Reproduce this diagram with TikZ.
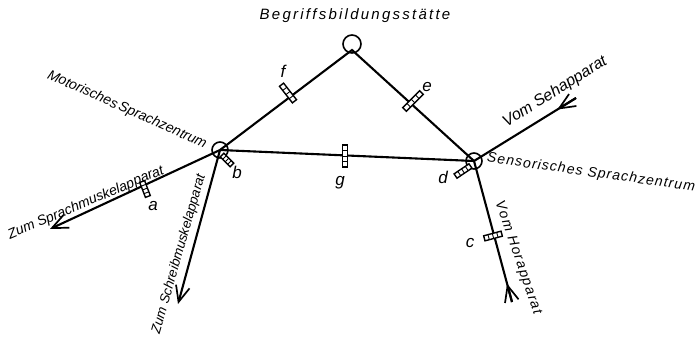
\documentclass[tikz,border=0pt]{standalone}
\usepackage{fontspec}
\setmainfont{Liberation Sans}
\usetikzlibrary{arrows.meta,calc}
\begin{document}
\begin{tikzpicture}[x=1pt,y=-1pt,
  conn/.style={line width=2.1pt},
  hub/.style={circle,draw,line width=1.6pt,minimum size=16pt,inner sep=0pt},
  lbl/.style={font=\fontsize{14}{14}\selectfont\itshape, inner sep=0pt},
  letter/.style={font=\fontsize{17}{17}\selectfont\itshape, inner sep=0pt},
  barb/.style={-{Straight Barb[length=16pt,width=14pt,line width=1.7pt]}, line width=2.1pt},
  pics/hatch/.style={code={
    \draw[line width=1.4pt,fill=white] (-#1/2,-2.6) rectangle (#1/2,2.6);
    \foreach \k in {-0.25,0,0.25} \draw[line width=0.9pt] (\k*#1,-2.6) -- (\k*#1,2.6);
  }},
]
\useasboundingbox (0,0) rectangle (695,339);

% hubs
\node[hub,minimum size=18pt] (T) at (352,44) {};
\node[hub] (b) at (220,150) {};
\node[hub] (d) at (474,161) {};
\coordinate (Tv) at (352,50);
\coordinate (A) at (50,229);
\coordinate (S) at (178,304);
\coordinate (E) at (576,98);
\coordinate (H) at (512,302);

% connectors
\draw[conn] (b.center) -- (Tv) -- (d.center);
\draw[conn] (b.center) -- (d.center);
\draw[barb] (b.center) -- (A);
\draw[barb] (b.center) -- (S);
\draw[conn] (d.center) -- (E);
\draw[barb] (E) -- ($(E)!22pt!(d)$);
\draw[conn] (d.center) -- (H);
\draw[barb] (H) -- ($(H)!19pt!(d)$);

% hatches
\pic[rotate=-52] at (288,93) {hatch=21};
\pic[rotate=45] at (413,101) {hatch=24};
\pic[rotate=90] at (345,156) {hatch=22};
\pic[rotate=-69] at (145,189) {hatch=16};
\pic[rotate=15] at (493,236) {hatch=18};
\pic[rotate=34] at (463,171) {hatch=18};
\pic[rotate=-45] at (227,160) {hatch=14};

% letters
\node[letter] (lf) at (283,71) {f};
\node[letter] (le) at (427,87) {e};
\node[letter] (lg) at (340,183) {g};
\node[letter] (la) at (153,206) {a};
\node[letter] (lb) at (237,172) {b};
\node[letter] (lc) at (470,243) {c};
\node[letter] (ld) at (443,177) {d};

% texts
\node[lbl,font=\fontsize{15}{15}\selectfont\itshape] (t1) at (355,16) {\addfontfeatures{LetterSpace=15}Begriffsbildungsstätte};
\node[lbl,rotate=-24] (t2) at (127,110) {Motorisches\,Sprachzentrum};
\node[lbl,rotate=23] (t3) at (86,203) {Zum Sprachmuskelapparat};
\node[lbl,rotate=74,font=\fontsize{13.5}{13.5}\selectfont\itshape] (t4) at (179,254) {Zum Schreibmuskelapparat};
\node[lbl,rotate=32,font=\fontsize{16}{16}\selectfont\itshape] (t5) at (555,92) {Vom Sehapparat};
\node[lbl,rotate=-8] (t6) at (591,173) {\addfontfeatures{LetterSpace=8}Sensorisches Sprachzentrum};
\node[lbl,rotate=-71] (t7) at (518,258) {\addfontfeatures{LetterSpace=10}Vom Horapparat};
\end{tikzpicture}
\end{document}
